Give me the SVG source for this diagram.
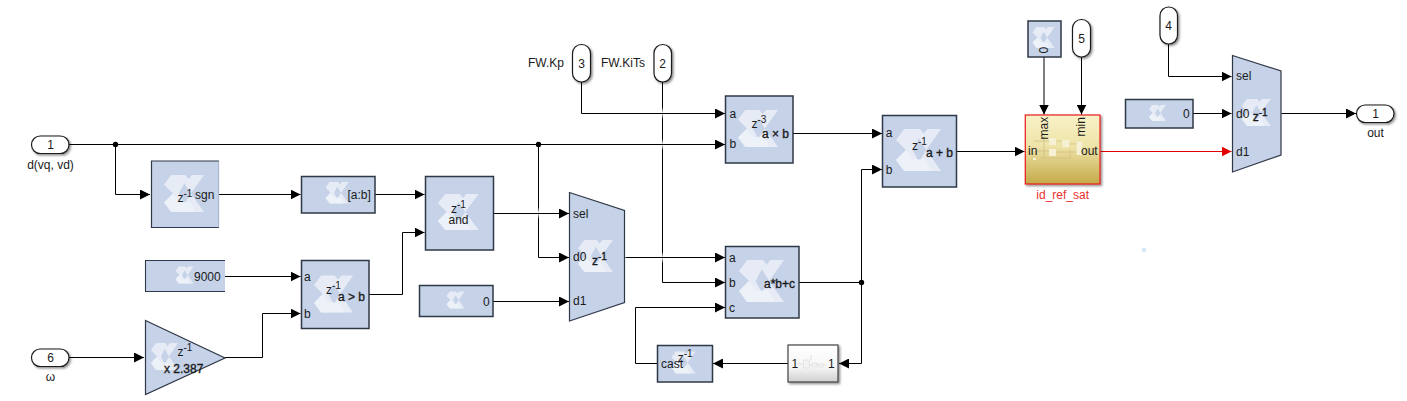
<svg xmlns="http://www.w3.org/2000/svg" xmlns:xlink="http://www.w3.org/1999/xlink" width="1407" height="401" viewBox="0 0 1407 401">
<style>
text{font-family:"Liberation Sans",Arial,sans-serif;font-size:12px;fill:#1a1a1a}
.m{text-anchor:middle}
.b{stroke:#1a1a1a;stroke-width:.35px}
.s{font-size:10px}
.blk{fill:#c5d2e8;stroke:#2f3846;stroke-width:1.5}
.port{fill:#fff;stroke:#1a1a1a;stroke-width:1.2;filter:url(#sh)}
.w{fill:none;stroke:#000;stroke-width:1;marker-end:url(#a)}
.n{fill:none;stroke:#000;stroke-width:1}
.r{fill:none;stroke:#e00000;stroke-width:1;marker-end:url(#ar)}
.f{fill:url(#fade)}
.in{fill:none;stroke:#cdbd80;stroke-width:.7}
.pb{fill:#f6f0d4}
</style>
<defs>
<filter id="sh" x="-20%" y="-20%" width="150%" height="150%"><feDropShadow dx="1.5" dy="1.5" stdDeviation="1" flood-color="#000" flood-opacity=".45"/></filter>
<linearGradient id="gold" x1="0" y1="0" x2="0" y2="1"><stop offset="0" stop-color="#f8f2c8"/><stop offset=".45" stop-color="#eee3a8"/><stop offset="1" stop-color="#c4aa48"/></linearGradient>
<linearGradient id="silver" x1="0" y1="0" x2="0" y2="1"><stop offset="0" stop-color="#fff"/><stop offset=".6" stop-color="#f6f6f6"/><stop offset="1" stop-color="#cfcfcf"/></linearGradient>
<linearGradient id="fade" x1="0" y1="0" x2="0" y2="1"><stop offset="0" stop-color="#fff" stop-opacity="0"/><stop offset=".5" stop-color="#fff" stop-opacity=".95"/><stop offset="1" stop-color="#fff" stop-opacity="0"/></linearGradient>
<marker id="a" markerUnits="userSpaceOnUse" markerWidth="10" markerHeight="10" refX="10" refY="5" orient="auto"><path d="M0,0L10,5L0,10z" fill="#000"/></marker>
<marker id="ar" markerUnits="userSpaceOnUse" markerWidth="10" markerHeight="10" refX="10" refY="5" orient="auto"><path d="M0,0L10,5L0,10z" fill="#e00000"/></marker>
<g id="x">
<path d="M22,0H65L75,12L85,0H122L82,54L122,108H22L0,80L27,54L0,28z" fill="#e6ebf6"/>
<path d="M62,24L82,54L62,84L45,54z" fill="#c5d2e8"/>
<path d="M27,54L45,78H80L97,108H22L0,80z" fill="#f0f3fa" opacity=".7"/>
</g>
</defs>
<rect width="1407" height="401" fill="#fff"/>

<g id="connectors">
<path class="w" d="M662.5,82V282.5H725"/>
<path class="w" d="M538.5,144.5V257.5H569"/>
<rect class="f" x="661.5" y="107" width="2" height="12"/>
<rect class="f" x="661.5" y="138.5" width="2" height="12"/>
<rect class="f" x="661.5" y="251.5" width="2" height="12"/>
<rect class="f" x="537.5" y="207" width="2" height="12"/>
<path class="w" d="M69,144.5H725"/>
<path class="w" d="M115.5,144.5V194.5H150"/>
<path class="w" d="M219,194.5H300.500"/>
<path class="w" d="M375,194.5H424.500"/>
<path class="w" d="M369,294.500H402.500V232.500H424.500"/>
<path class="w" d="M225,276.500H300.500"/>
<path class="w" d="M225,357.500H262.500V313.500H300.500"/>
<path class="w" d="M69,357.500H144"/>
<path class="w" d="M494,213.500H569"/>
<path class="w" d="M493,301.500H569"/>
<path class="w" d="M625.500,257.500H725"/>
<path class="w" d="M581.500,82V113.500H725"/>
<path class="w" d="M657.500,363.500H635.500V307.500H725"/>
<path class="w" d="M799,282.500H861.500V169.500H882"/>
<path class="w" d="M861.500,282.500V363.500H839"/>
<path class="w" d="M788,363.500H713"/>
<path class="w" d="M793,133.500H882"/>
<path class="w" d="M956.500,151.500H1024.500"/>
<path class="w" d="M1044,57V114.500"/>
<path class="w" d="M1081.500,57V114.500"/>
<path class="r" d="M1100.500,151.500H1231.500"/>
<path class="w" d="M1168.500,44V76.500H1231.500"/>
<path class="w" d="M1193,113.500H1231.500"/>
<path class="w" d="M1281.500,113.500H1356"/>
<circle cx="115.500" cy="144.500" r="2.700"/>
<circle cx="538.500" cy="144.500" r="2.700"/>
<circle cx="861.500" cy="282.500" r="2.700"/>
</g>

<g id="in1"><rect class="port" x="31.500" y="136" width="37.500" height="17.500" rx="8.700"/><text class="m" x="50.500" y="149">1</text><text class="m" x="50.500" y="169">d(vq, vd)</text></g>
<g id="in6"><rect class="port" x="31.500" y="349" width="37.500" height="17.500" rx="8.700"/><text class="m" x="50.500" y="362">6</text><text class="m" x="50.500" y="381">ω</text></g>
<g id="in3"><rect class="port" x="572.500" y="44.500" width="18" height="37.500" rx="8.800"/><text class="m" x="581.500" y="68">3</text><text x="528" y="67">FW.Kp</text></g>
<g id="in2"><rect class="port" x="654" y="44.500" width="17.500" height="37.500" rx="8.700"/><text class="m" x="662.500" y="68">2</text><text x="601" y="67">FW.KiTs</text></g>
<g id="in5"><rect class="port" x="1072.500" y="19.500" width="18" height="37.500" rx="8.800"/><text class="m" x="1081.500" y="43">5</text></g>
<g id="in4"><rect class="port" x="1160" y="7" width="17.500" height="37" rx="8.700"/><text class="m" x="1168.500" y="30">4</text></g>
<g id="out1"><rect class="port" x="1356.500" y="105" width="37.500" height="17.500" rx="8.700"/><text class="m" x="1375.500" y="118">1</text><text class="m" x="1375.500" y="137">out</text></g>

<g id="sgn"><rect x="151" y="161" width="68" height="67" fill="#c5d2e8"/><path d="M219,161H151.500V227.500H219" fill="none" stroke="#2f3846" stroke-width="1.200"/><path d="M218.700,161V228" stroke="#8a9ab8" stroke-width=".6"/>
<use xlink:href="#x" href="#x" transform="translate(164,175) scale(.328,.343)"/>
<text x="177.500" y="202">z<tspan class="s" dy="-5">-1</tspan></text><text x="195" y="198.500">sgn</text></g>

<g id="slice"><rect class="blk" x="301.500" y="176.500" width="73.500" height="36.500"/>
<use xlink:href="#x" href="#x" transform="translate(325.500,182) scale(.19,.2)"/>
<text x="347.500" y="199">[a:b]</text></g>

<g id="c9000"><rect x="145" y="260" width="80" height="32" fill="#c5d2e8"/><path d="M225,260.500H145.500V291.500H225" fill="none" stroke="#2f3846" stroke-width="1.100"/>
<use xlink:href="#x" href="#x" transform="translate(175.500,266.500) scale(.148,.157)"/>
<text x="194" y="281">9000</text></g>

<g id="gt"><rect class="blk" x="301.500" y="260.500" width="67.500" height="68"/>
<use xlink:href="#x" href="#x" transform="translate(314,275.500) scale(.32,.343)"/>
<text x="304" y="281">a</text><text x="304" y="318">b</text>
<text x="326" y="294">z<tspan class="s" dy="-5">-1</tspan></text><text class="b" x="338" y="301">a &gt; b</text></g>

<g id="gain"><path d="M145.500,320.500L225,358L145.500,394.500z" fill="#c5d2e8" stroke="#2f3846" stroke-width="1.200"/>
<use xlink:href="#x" href="#x" transform="translate(151,343) scale(.221,.25)"/>
<text x="177.500" y="356">z<tspan class="s" dy="-5">-1</tspan></text><text class="b" x="164" y="373">x 2.387</text></g>

<g id="and"><rect class="blk" x="425.500" y="176.500" width="68" height="73.500"/>
<use xlink:href="#x" href="#x" transform="translate(437.700,194) scale(.336,.333)"/>
<text x="451" y="213">z<tspan class="s" dy="-5">-1</tspan></text><text x="448.500" y="224">and</text></g>

<g id="mux1"><path d="M569.500,192.500L624.500,210.500V302.500L569.500,321z" fill="#c5d2e8" stroke="#2f3846" stroke-width="1.200"/>
<use xlink:href="#x" href="#x" transform="translate(578,240) scale(.287,.296)"/>
<text x="573" y="217.500">sel</text><text x="573" y="261">d0</text><text x="573" y="305">d1</text>
<text class="b" x="592" y="265">z<tspan class="s" dy="-5">-1</tspan></text></g>

<g id="c0a"><rect class="blk" x="419.500" y="285.500" width="73.500" height="31"/>
<use xlink:href="#x" href="#x" transform="translate(446.500,291.500) scale(.148,.157)"/>
<text x="483" y="306">0</text></g>

<g id="mul"><rect class="blk" x="725.500" y="96" width="67.500" height="67"/>
<use xlink:href="#x" href="#x" transform="translate(738,110) scale(.328,.343)"/>
<text x="729.500" y="118">a</text><text x="729.500" y="148">b</text>
<text x="751.500" y="128">z<tspan class="s" dy="-5">-3</tspan></text><text class="b" x="762" y="138">a × b</text></g>

<g id="mac"><rect class="blk" x="725.500" y="246.500" width="73.500" height="71.500"/>
<use xlink:href="#x" href="#x" transform="translate(739,260) scale(.369,.389)"/>
<text x="729" y="262">a</text><text x="729" y="287">b</text><text x="729" y="312">c</text>
<text class="b" x="764" y="288">a*b+c</text></g>

<g id="cast"><rect class="blk" x="657.500" y="345.500" width="55" height="36.500"/>
<use xlink:href="#x" href="#x" transform="translate(671.500,351.500) scale(.197,.204)"/>
<text x="677.700" y="362">z<tspan class="s" dy="-5">-1</tspan></text><text x="661" y="368">cast</text></g>

<g id="sub"><rect x="788" y="345" width="50" height="37" fill="url(#silver)" stroke="#444" stroke-width="1.200" filter="url(#sh)"/>
<path d="M797,364H803M809,365H826M811,355V360" stroke="#d8d8d8" stroke-width=".8" fill="none"/>
<rect x="803.500" y="360" width="6" height="8" fill="#f2f2f2" stroke="#ddd" stroke-width=".6"/><rect x="812" y="363" width="5" height="4" fill="#f2f2f2" stroke="#ddd" stroke-width=".6"/><rect x="818" y="364" width="5" height="3" fill="#f2f2f2" stroke="#ddd" stroke-width=".6"/>
<text x="791.500" y="368">1</text><text x="828" y="368">1</text></g>

<g id="add"><rect class="blk" x="882.500" y="115.500" width="74" height="71.500"/>
<use xlink:href="#x" href="#x" transform="translate(896,129) scale(.369,.389)"/>
<text x="885.700" y="136.500">a</text><text x="885.700" y="173.500">b</text>
<text x="912" y="149.500">z<tspan class="s" dy="-5">-1</tspan></text><text class="b" x="926" y="157">a + b</text></g>

<g id="id_ref_sat"><rect x="1025.300" y="115" width="74.700" height="69" fill="url(#gold)" stroke="#e81c1c" stroke-width="1.200" filter="url(#sh)"/>
<path class="in" d="M1034,141H1049M1034,151H1049M1044,136V158M1056,141H1062M1056,152H1076M1069,144H1077M1040,158H1070V150"/>
<rect class="pb" x="1049" y="138" width="7" height="7"/><rect class="pb" x="1049" y="149" width="7" height="7"/><rect class="pb" x="1062.300" y="140" width="7" height="7.300"/><rect class="pb" x="1076.700" y="141.700" width="5.600" height="13.300"/>
<rect class="pb" x="1033" y="149" width="3" height="2"/><rect class="pb" x="1033" y="158" width="3" height="2"/>
<text x="1028" y="155">in</text><text x="1081" y="155">out</text>
<text transform="translate(1047.500,139.500) rotate(-90)">max</text><text transform="translate(1085,136.500) rotate(-90)">min</text>
<text class="m" x="1062.700" y="199" style="fill:#e83030">id_ref_sat</text></g>

<g id="c0b"><rect class="blk" x="1028" y="21" width="33" height="36"/>
<use xlink:href="#x" href="#x" transform="translate(1032.500,27) scale(.18,.194)"/>
<text transform="translate(1048,53.500) rotate(-90)">0</text></g>

<g id="c0c"><rect class="blk" x="1125.500" y="99.500" width="67.500" height="28.500"/>
<use xlink:href="#x" href="#x" transform="translate(1149,105) scale(.139,.148)"/>
<text x="1183" y="118">0</text></g>

<g id="mux2"><path d="M1232.500,55.500L1281,71V155L1232.500,172z" fill="#c5d2e8" stroke="#2f3846" stroke-width="1.200"/>
<use xlink:href="#x" href="#x" transform="translate(1241.700,99) scale(.238,.25)"/>
<text x="1236" y="80">sel</text><text x="1236" y="118">d0</text><text x="1236" y="155.500">d1</text>
<text class="b" x="1252.700" y="120.700">z<tspan class="s" dy="-5">-1</tspan></text></g>

<rect x="1142" y="248" width="4" height="4" fill="#d4e8f8"/>
</svg>
